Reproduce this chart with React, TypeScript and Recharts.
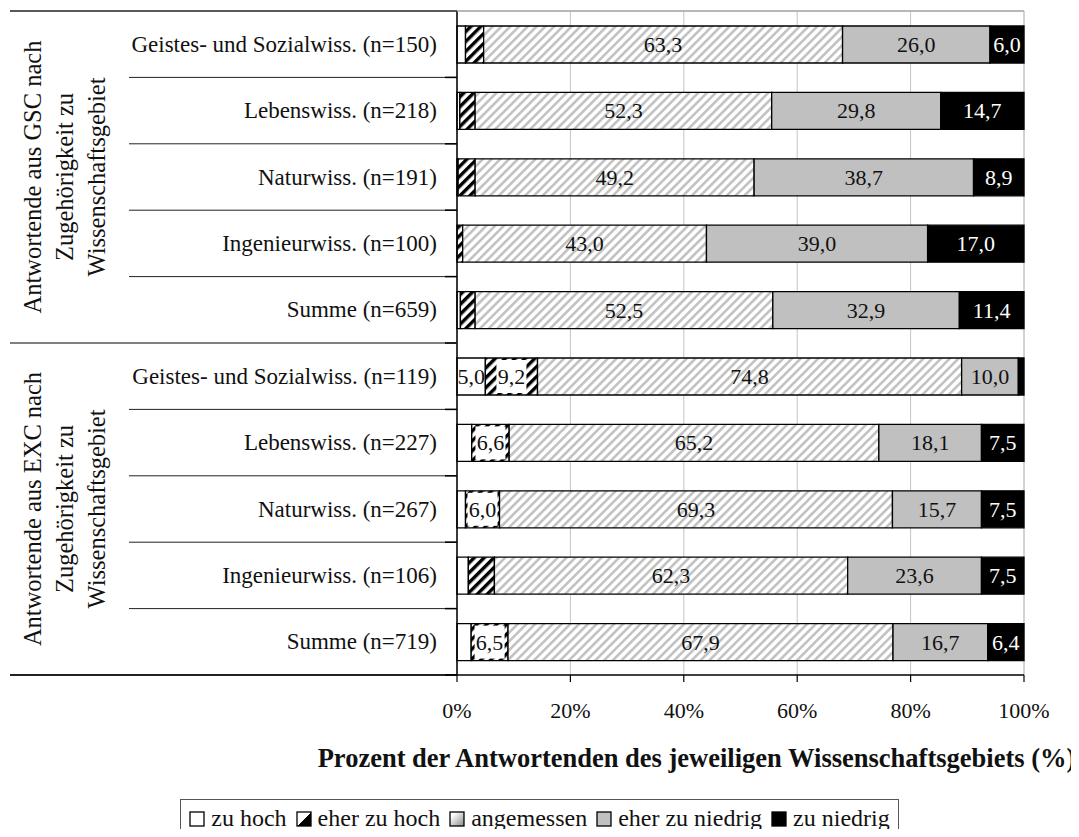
import React from "react"
import { BarChart, Bar, XAxis, YAxis, CartesianGrid, LabelList } from "recharts"

const categories = [
  "Geistes- und Sozialwiss. (n=150)",
  "Lebenswiss. (n=218)",
  "Naturwiss. (n=191)",
  "Ingenieurwiss. (n=100)",
  "Summe (n=659)",
  "Geistes- und Sozialwiss. (n=119)",
  "Lebenswiss. (n=227)",
  "Naturwiss. (n=267)",
  "Ingenieurwiss. (n=106)",
  "Summe (n=719)",
]
const zuHoch = [1.5, 0.5, 0.2, 0, 0.6, 5.0, 2.6, 1.5, 2.0, 2.5]
const eherZuHoch = [3.2, 2.7, 3.0, 1.0, 2.6, 9.2, 6.6, 6.0, 4.6, 6.5]
const angemessen = [63.3, 52.3, 49.2, 43.0, 52.5, 74.8, 65.2, 69.3, 62.3, 67.9]
const eherZuNiedrig = [26.0, 29.8, 38.7, 39.0, 32.9, 10.0, 18.1, 15.7, 23.6, 16.7]
const zuNiedrig = [6.0, 14.7, 8.9, 17.0, 11.4, 1.0, 7.5, 7.5, 7.5, 6.4]

const groupLabels = [
  ["Antwortende aus GSC nach", "Zugehörigkeit zu", "Wissenschaftsgebiet"],
  ["Antwortende aus EXC nach", "Zugehörigkeit zu", "Wissenschaftsgebiet"],
]
const xTicks = [0, 20, 40, 60, 80, 100]
const xTitle = "Prozent der Antwortenden des jeweiligen Wissenschaftsgebiets (%)"

const data = categories.map((label, i) => ({
  label,
  zuHoch: zuHoch[i],
  eherZuHoch: eherZuHoch[i],
  angemessen: angemessen[i],
  eherZuNiedrig: eherZuNiedrig[i],
  zuNiedrig: zuNiedrig[i],
}))

const FONT = "'Liberation Serif', 'Times New Roman', serif"
const W = 1079
const H = 837
const M = { top: 11, right: 55, bottom: 62, left: 0 }
const Y_W = 457
const X_H = 100
const PLOT_L = M.left + Y_W
const PLOT_R = W - M.right
const PLOT_H = H - M.top - M.bottom - X_H
const BAND = PLOT_H / categories.length
const GROUP = 5

const fmt = (v: number) => v.toFixed(1).replace(".", ",")

function CategoryTick(props: any) {
  const { y, payload, index } = props
  const top = y - BAND / 2
  const bottom = y + BAND / 2
  const lastInGroup = index % GROUP === GROUP - 1
  const group = Math.floor(index / GROUP)
  return (
    <g>
      {index === 0 && (
        <>
          <line x1={10} x2={PLOT_L} y1={top} y2={top} stroke="#222" strokeWidth={1.5} />
          <line x1={PLOT_L} x2={PLOT_R} y1={top} y2={top} stroke="#a0a0a0" strokeWidth={1.5} />
        </>
      )}
      <line
        x1={lastInGroup ? 10 : 129}
        x2={PLOT_L}
        y1={bottom}
        y2={bottom}
        stroke={lastInGroup && index < categories.length - 1 ? "#808080" : "#222"}
        strokeWidth={lastInGroup ? 1.8 : 1}
      />
      <line x1={PLOT_L - 12} x2={PLOT_L} y1={bottom} y2={bottom} stroke="#000" strokeWidth={1.5} />
      <text x={437} y={y} textAnchor="end" dominantBaseline="central" fontFamily={FONT} fontSize={23} fill="#111">
        {payload.value}
      </text>
      {index % GROUP === 2 &&
        groupLabels[group].map((line, k) => {
          const gx = 32 + k * 32
          return (
            <text
              key={k}
              x={gx}
              y={y}
              transform={`rotate(-90, ${gx}, ${y})`}
              textAnchor="middle"
              dominantBaseline="central"
              fontFamily={FONT}
              fontSize={24.5}
              fill="#111"
            >
              {line}
            </text>
          )
        })}
    </g>
  )
}

const makeLabel = (kind: string) => (props: any) => {
  const vb = props.viewBox || props
  const { x, y, width, height } = vb
  const value = Number(props.value)
  if (!(value >= 5)) return null
  const cx = x + width / 2
  const cy = y + height / 2
  return (
    <g>
      {kind === "eherZuHoch" && <rect x={cx - 15} y={y + 2} width={30} height={height - 4} fill="#fff" />}
      <text
        x={cx}
        y={cy}
        textAnchor="middle"
        dominantBaseline="central"
        fontFamily={FONT}
        fontSize={22}
        fill={kind === "zuNiedrig" ? "#fff" : "#111"}
      >
        {fmt(value)}
      </text>
    </g>
  )
}

const series = [
  { key: "zuHoch", fill: "#ffffff" },
  { key: "eherZuHoch", fill: "url(#heavyHatch)" },
  { key: "angemessen", fill: "url(#lightHatch)" },
  { key: "eherZuNiedrig", fill: "#c0c0c0" },
  { key: "zuNiedrig", fill: "#000000" },
]

const legendItems = [
  { name: "zu hoch", fill: "#fff" },
  { name: "eher zu hoch", fill: "url(#lgHeavy)" },
  { name: "angemessen", fill: "url(#lgLight)" },
  { name: "eher zu niedrig", fill: "#c0c0c0" },
  { name: "zu niedrig", fill: "#000" },
]

export default function App() {
  return (
    <div style={{ position: "relative", width: W, height: H, margin: -8, overflow: "hidden", background: "#fff", fontFamily: FONT }}>
      <BarChart width={W} height={H} data={data} layout="vertical" margin={M} barSize={37}>
        <defs>
          <pattern id="heavyHatch" width={7} height={7} patternUnits="userSpaceOnUse" patternTransform="rotate(45)">
            <rect width={7} height={7} fill="#fff" />
            <rect width={3.4} height={7} fill="#000" />
          </pattern>
          <pattern id="lightHatch" width={6.2} height={6.2} patternUnits="userSpaceOnUse" patternTransform="rotate(45)">
            <rect width={6.2} height={6.2} fill="#fff" />
            <rect width={2.6} height={6.2} fill="#c2c2c2" />
          </pattern>
        </defs>
        <CartesianGrid horizontal={false} stroke="#c4c4c4" strokeWidth={1} />
        <XAxis
          type="number"
          domain={[0, 100]}
          ticks={xTicks}
          tickFormatter={(v) => `${v}%`}
          height={X_H}
          tickSize={7}
          tickMargin={20}
          axisLine={{ stroke: "#000", strokeWidth: 1.5 }}
          tickLine={{ stroke: "#000", strokeWidth: 1.2 }}
          tick={{ fontFamily: FONT, fontSize: 22, fill: "#111" }}
          label={{
            content: ({ viewBox }: any) => (
              <text
                x={viewBox.x + viewBox.width / 2 - 44}
                y={viewBox.y + viewBox.height - 8}
                textAnchor="middle"
                fontFamily={FONT}
                fontSize={26.5}
                fontWeight="bold"
                fill="#111"
              >
                {xTitle}
              </text>
            ),
          }}
        />
        <YAxis
          type="category"
          dataKey="label"
          width={Y_W}
          axisLine={{ stroke: "#000", strokeWidth: 1.5 }}
          tickLine={false}
          tick={<CategoryTick />}
          interval={0}
        />
        {series.map((s) => (
          <Bar key={s.key} dataKey={s.key} stackId="a" fill={s.fill} stroke="#000" strokeWidth={1.3} isAnimationActive={false}>
            <LabelList dataKey={s.key} content={makeLabel(s.key)} />
          </Bar>
        ))}
      </BarChart>

      <svg width={0} height={0} style={{ position: "absolute" }}>
        <defs>
          <linearGradient id="lgHeavy" x1="0" y1="0" x2="1" y2="1">
            <stop offset="0.5" stopColor="#fff" />
            <stop offset="0.5" stopColor="#000" />
          </linearGradient>
          <linearGradient id="lgLight" x1="0" y1="0" x2="1" y2="1">
            <stop offset="0.2" stopColor="#fff" />
            <stop offset="1" stopColor="#888" />
          </linearGradient>
        </defs>
      </svg>

      <div style={{ position: "absolute", top: 799, left: 0, width: W, display: "flex", justifyContent: "center" }}>
        <div
          style={{
            display: "flex",
            alignItems: "center",
            gap: 9,
            border: "1.5px solid #555",
            padding: "5px 8px 10px 8px",
            fontSize: 24,
            color: "#111",
            whiteSpace: "nowrap",
          }}
        >
          {legendItems.map((it) => (
            <span key={it.name} style={{ display: "flex", alignItems: "center", gap: 6 }}>
              <svg width={16} height={16}>
                <rect x={1} y={1} width={14} height={14} fill={it.fill} stroke="#000" strokeWidth={1.3} />
              </svg>
              {it.name}
            </span>
          ))}
        </div>
      </div>
    </div>
  )
}
